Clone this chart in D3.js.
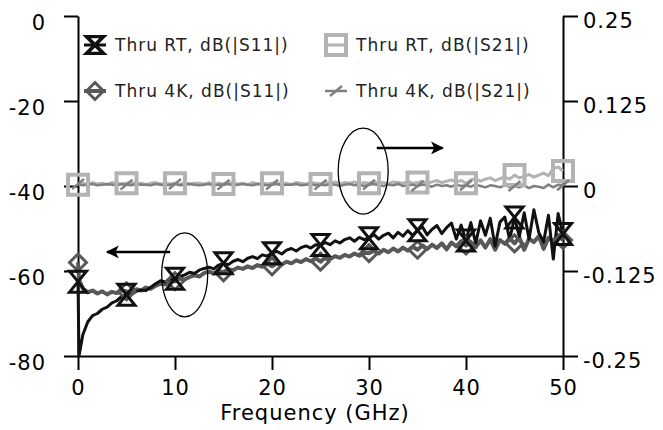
<!DOCTYPE html>
<html>
<head>
<meta charset="utf-8">
<script src="https://cdn.jsdelivr.net/npm/d3@7/dist/d3.min.js"></script>
<style>
  body { margin: 0; background: #fff; }
  .axis text { font-family: "DejaVu Sans", Verdana, sans-serif; font-size: 21px; letter-spacing: 1px; fill: #000; }
  .axis path, .axis line { stroke: #000; stroke-width: 2px; }
  .legend text { font-family: "DejaVu Sans", Verdana, sans-serif; font-size: 17px; letter-spacing: 1px; fill: #222; }
</style>
</head>
<body>
<div id="chart"></div>
<script>
// frequency points (GHz)
var freq = [0, 0.1, 0.5, 1, 1.5, 2, 2.5, 3, 3.5, 4, 4.5,
  5, 5.5, 6, 6.5, 7, 7.5, 8, 8.5, 9, 9.5,
  10, 10.5, 11, 11.5, 12, 12.5, 13, 13.5, 14, 14.5,
  15, 15.5, 16, 16.5, 17, 17.5, 18, 18.5, 19, 19.5,
  20, 20.5, 21, 21.5, 22, 22.5, 23, 23.5, 24, 24.5,
  25, 25.5, 26, 26.5, 27, 27.5, 28, 28.5, 29, 29.5,
  30, 30.5, 31, 31.5, 32, 32.5, 33, 33.5, 34, 34.5,
  35, 35.5, 36, 36.5, 37, 37.5, 38, 38.5, 39, 39.5,
  40, 40.5, 41, 41.5, 42, 42.5, 43, 43.5, 44, 44.5,
  45, 45.5, 46, 46.5, 47, 47.5, 48, 48.5, 49, 49.5, 50];

// Thru RT, dB(|S11|)
var rtS11 = [-62.5, -80, -75, -72, -70.5, -70, -69, -68.5, -67.5, -67, -66,
  -65.6, -65.5, -64.8, -64.5, -64.6, -63.8, -63, -62.3, -62.6, -61.8,
  -61.8, -61.3, -60.9, -60.3, -60.6, -59.8, -59.4, -59.1, -59.5, -58.6,
  -58.2, -58.5, -57.7, -57.3, -57.8, -57, -56.6, -57.1, -56.2, -56.5,
  -55.8, -55.4, -56, -55.1, -54.7, -55.3, -54.5, -54.1, -54.6, -53.8,
  -53.9, -53.3, -53.8, -52.9, -53.4, -52.6, -52.2, -53, -52.1, -52.6,
  -52.3, -51.4, -52.5, -51.6, -51.1, -52.2, -50.9, -51.8, -50.5, -51.6,
  -50.4, -49.6, -51.5, -50.2, -49.3, -51.2, -49.8, -48.7, -52.5, -49.2,
  -52.8, -48.6, -53.5, -48.2, -51.6, -47.6, -54.2, -48.5, -47.3, -52.6,
  -47.4, -51.9, -46.3, -52.5, -45.6, -50.9, -53.2, -46.9, -57.2, -46.5, -51.3];

// Thru 4K, dB(|S11|)
var k4S11 = [-58, -62, -64.2, -65, -64.6, -65.3, -64.8, -65.5, -64.9, -65.2, -64.5,
  -64.8, -64.9, -64.3, -64.6, -63.9, -64.2, -63.5, -63, -63.2, -62.5,
  -62.4, -61.8, -62, -61.4, -61, -61.3, -60.5, -60.1, -60.6, -60,
  -60.3, -59.6, -59.8, -59.2, -59.5, -58.9, -59.3, -58.6, -59, -58.3,
  -58.9, -58.2, -58.5, -57.8, -58.2, -57.5, -57.9, -57.2, -57.7, -57,
  -57.8, -56.8, -57.2, -56.5, -56.9, -56.2, -56.6, -55.9, -56.4, -55.7,
  -55.8, -55.3, -55.9, -55, -55.6, -54.7, -55.4, -54.5, -55.2, -54.3,
  -55, -54, -54.8, -53.8, -54.6, -53.5, -54.9, -53.3, -54.2, -53,
  -54, -53.2, -54.4, -52.8, -54.5, -52.5, -55, -52.7, -53.6, -52.3,
  -53.5, -52.1, -55, -52.4, -53.2, -51.8, -54.8, -52.2, -53, -51.6, -52.7];

// Thru RT, dB(|S21|)
var rtS21 = [0.002, 0.003, 0.004, 0.003, 0.005, 0.003, 0.004, 0.002, 0.005, 0.004, 0.003,
  0.004, 0.005, 0.003, 0.004, 0.002, 0.004, 0.005, 0.003, 0.004, 0.003,
  0.004, 0.002, 0.005, 0.003, 0.004, 0.004, 0.003, 0.005, 0.002, 0.004,
  0.003, 0.005, 0.004, 0.003, 0.004, 0.002, 0.005, 0.003, 0.004, 0.003,
  0.004, 0.005, 0.003, 0.004, 0.002, 0.005, 0.004, 0.003, 0.005, 0.004,
  0.003, 0.005, 0.004, 0.006, 0.003, 0.005, 0.004, 0.006, 0.003, 0.005,
  0.004, 0.006, 0.004, 0.005, 0.003, 0.006, 0.005, 0.004, 0.007, 0.004,
  0.005, 0.007, 0.004, 0.006, 0.008, 0.005, 0.007, 0.009, 0.006, 0.008,
  0.004, 0.009, 0.011, 0.007, 0.01, 0.012, 0.008, 0.011, 0.013, 0.01,
  0.016, 0.012, 0.014, 0.017, 0.013, 0.016, 0.019, 0.015, 0.026, 0.028, 0.022];

// Thru 4K, dB(|S21|)
var k4S21 = [0.003, 0.002, 0.001, 0.002, 0.003, 0.001, 0.002, 0.003, 0.002, 0.001, 0.003,
  0.002, 0.001, 0.003, 0.002, 0.002, 0.001, 0.003, 0.002, 0.001, 0.002,
  0.003, 0.001, 0.002, 0.003, 0.002, 0.001, 0.002, 0.003, 0.001, 0.002,
  0.002, 0.003, 0.001, 0.002, 0.003, 0.002, 0.001, 0.003, 0.002, 0.001,
  0.002, 0.003, 0.001, 0.002, 0.002, 0.003, 0.001, 0.002, 0.003, 0.001,
  0.002, 0.001, 0.003, 0.002, 0.000, 0.002, 0.003, 0.001, 0.002, 0.000,
  0.002, 0.003, 0.001, 0.000, 0.002, 0.001, 0.003, 0.000, 0.001, 0.002,
  0.000, 0.002, 0.001, -0.001, 0.002, 0.000, 0.001, -0.001, 0.002, 0.000,
  0.001, -0.001, 0.002, 0.000, -0.002, 0.001, 0.000, -0.002, 0.001, -0.001,
  0.000, -0.002, 0.001, -0.003, 0.000, -0.001, -0.003, 0.002, -0.002, 0.002, 0.001];

// tick labels
var xTicks = [0, 10, 20, 30, 40, 50];
var leftTicks = [0, -20, -40, -60, -80];
var rightTicks = [0.25, 0.125, 0, -0.125, -0.25];

// legend labels
var legendNames = ["Thru RT, dB(|S11|)", "Thru RT, dB(|S21|)", "Thru 4K, dB(|S11|)", "Thru 4K, dB(|S21|)"];

// annotation ellipses and arrows (data units)
var leftNote = { f: 11, db: -60.9, arrowFrom: 9.5, arrowTo: 3.0, arrowDb: -55.5 };
var rightNote = { f: 29.4, v: 0.022, arrowFrom: 30.8, arrowTo: 37.6, arrowV: 0.056 };

// setting height and width
var svgWidth = 663;
var svgHeight = 430;
var margin = { top: 16, right: 100, bottom: 74, left: 78 };
var width = svgWidth - margin.left - margin.right;
var height = svgHeight - margin.top - margin.bottom;

var svg = d3.select("#chart")
  .append("svg")
  .attr("width", svgWidth)
  .attr("height", svgHeight);

// arrow head
svg.append("defs").append("marker")
  .attr("id", "arrowHead")
  .attr("viewBox", "0 0 10 10")
  .attr("refX", 9)
  .attr("refY", 5)
  .attr("markerUnits", "userSpaceOnUse")
  .attr("markerWidth", 17)
  .attr("markerHeight", 13)
  .attr("orient", "auto")
  .append("path")
  .attr("d", "M0,0 L10,5 L0,10 L2.5,5 Z")
  .attr("fill", "#000");

var chartGroup = svg.append("g")
  .attr("transform", `translate(${margin.left}, ${margin.top})`);

// scales
var xScale = d3.scaleLinear().domain([0, 50]).range([0, width]);
var yLeft = d3.scaleLinear().domain([-80, 0]).range([height, 0]);
var yRight = d3.scaleLinear().domain([-0.25, 0.25]).range([height, 0]);

// axes
var xAxis = d3.axisBottom(xScale).tickValues(xTicks).tickSize(14).tickSizeOuter(0).tickPadding(10);
var leftAxis = d3.axisLeft(yLeft).tickValues(leftTicks).tickSize(14).tickSizeOuter(0).tickPadding(18).tickFormat(d => d);
var rightAxis = d3.axisRight(yRight).tickValues(rightTicks).tickSize(15).tickSizeOuter(0).tickPadding(5).tickFormat(d => d);

chartGroup.append("g").attr("class", "axis")
  .attr("transform", `translate(0, ${height})`)
  .call(xAxis);

chartGroup.append("g").attr("class", "axis")
  .call(leftAxis)
  .selectAll("text").attr("dy", "0.62em");

chartGroup.append("g").attr("class", "axis")
  .attr("transform", `translate(${width}, 0)`)
  .call(rightAxis)
  .selectAll("text").attr("dy", "0.55em");

// x label
chartGroup.append("text")
  .attr("x", 315 - margin.left)
  .attr("y", 420 - margin.top)
  .attr("text-anchor", "middle")
  .style("font-family", "'DejaVu Sans', Verdana, sans-serif")
  .style("font-size", "21px")
  .style("letter-spacing", "1px")
  .text("Frequency (GHz)");

// marker shapes
var shapes = {
  hourglass: "M-8.5,-10.5 L8.5,-10.5 L-8.5,10.5 L8.5,10.5 Z",
  diamond: "M0,-8.5 L8.5,0 L0,8.5 L-8.5,0 Z",
  square: "M-10,-10 H10 V10 H-10 Z",
  slash: "M-6,5 L6,-5"
};

// series definitions
var series = [
  { name: legendNames[1], values: rtS21, y: yRight, color: "#b3b3b3", width: 3, shape: "square", mw: 4 },
  { name: legendNames[3], values: k4S21, y: yRight, color: "#808080", width: 2.5, shape: "slash", mw: 2.5 },
  { name: legendNames[2], values: k4S11, y: yLeft, color: "#585858", width: 4, shape: "diamond", mw: 3 },
  { name: legendNames[0], values: rtS11, y: yLeft, color: "#111", width: 3, shape: "hourglass", mw: 3 }
];

series.forEach(function(s) {
  var rows = freq.map((f, i) => ({ f: f, v: s.values[i] }));
  var line = d3.line()
    .x(d => xScale(d.f))
    .y(d => s.y(d.v));

  chartGroup.append("path")
    .datum(rows)
    .attr("d", line)
    .attr("fill", "none")
    .attr("stroke", s.color)
    .attr("stroke-width", s.width)
    .attr("stroke-linejoin", "round");
  s.rows = rows;
});

// markers every 5 GHz
series.forEach(function(s) {
  chartGroup.selectAll(null)
    .data(s.rows.filter(d => d.f % 5 === 0))
    .enter()
    .append("path")
    .attr("d", shapes[s.shape])
    .attr("transform", d => `translate(${xScale(d.f)}, ${s.y(d.v)})`)
    .attr("fill", "none")
    .attr("stroke", s.color)
    .attr("stroke-width", s.mw);
});

// annotations
chartGroup.append("ellipse")
  .attr("cx", xScale(leftNote.f))
  .attr("cy", yLeft(leftNote.db))
  .attr("rx", 23).attr("ry", 42)
  .attr("fill", "none").attr("stroke", "#000").attr("stroke-width", 1.3);

chartGroup.append("line")
  .attr("x1", xScale(leftNote.arrowFrom)).attr("x2", xScale(leftNote.arrowTo))
  .attr("y1", yLeft(leftNote.arrowDb)).attr("y2", yLeft(leftNote.arrowDb))
  .attr("stroke", "#000").attr("stroke-width", 2.5)
  .attr("marker-end", "url(#arrowHead)");

chartGroup.append("ellipse")
  .attr("cx", xScale(rightNote.f))
  .attr("cy", yRight(rightNote.v))
  .attr("rx", 25).attr("ry", 43)
  .attr("fill", "none").attr("stroke", "#000").attr("stroke-width", 1.3);

chartGroup.append("line")
  .attr("x1", xScale(rightNote.arrowFrom)).attr("x2", xScale(rightNote.arrowTo))
  .attr("y1", yRight(rightNote.arrowV)).attr("y2", yRight(rightNote.arrowV))
  .attr("stroke", "#000").attr("stroke-width", 2.5)
  .attr("marker-end", "url(#arrowHead)");

// legend
var legendItems = [
  { s: series[3], x: 95, y: 45 },
  { s: series[0], x: 336, y: 45 },
  { s: series[2], x: 95, y: 91 },
  { s: series[1], x: 336, y: 91 }
];

var legend = svg.append("g").attr("class", "legend");
legendItems.forEach(function(item) {
  var g = legend.append("g").attr("transform", `translate(${item.x}, ${item.y})`);
  g.append("line")
    .attr("x1", -11).attr("x2", 11)
    .attr("stroke", item.s.color)
    .attr("stroke-width", item.s.width);
  g.append("path")
    .attr("d", shapes[item.s.shape])
    .attr("fill", "none")
    .attr("stroke", item.s.color)
    .attr("stroke-width", item.s.shape === "hourglass" ? 4 : item.s.mw)
    .attr("transform", item.s.shape === "hourglass" ? "scale(1, 0.8)" : null);
  g.append("text")
    .attr("x", 20)
    .attr("y", 6)
    .text(item.s.name);
});
</script>
</body>
</html>
